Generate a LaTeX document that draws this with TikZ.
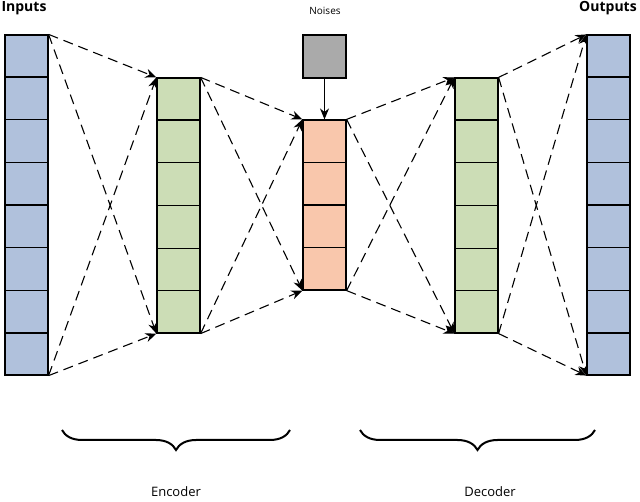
\documentclass[tikz,border=0pt]{standalone}
\usepackage{fontspec}
\setmainfont{Open Sans}
\usetikzlibrary{arrows.meta,positioning,calc,decorations.pathreplacing}
\definecolor{inblue}{HTML}{B0C1DC}
\definecolor{encgreen}{HTML}{CCDDB6}
\definecolor{codeorange}{HTML}{F9C7AC}
\definecolor{noisegray}{HTML}{AAAAAA}
\tikzset{
  col/.style={draw, line width=1.2pt, minimum width=43pt, inner sep=0pt},
  link/.style={dash pattern=on 10pt off 6pt, line width=1.1pt, -{Stealth[length=11pt,width=9pt]}},
  brc/.style={decorate, decoration={brace, mirror, amplitude=20pt, aspect=0.5}, line width=2pt}
}
\begin{document}
\begin{tikzpicture}[x=1pt,y=-1pt]
\useasboundingbox (0,0) rectangle (640,502);
% columns
\node[col, fill=inblue, minimum height=340pt] (in) at (26.5,205) {};
\node[col, fill=encgreen, minimum height=255pt] (enc) at (178.5,205.5) {};
\node[col, fill=codeorange, minimum height=170pt] (code) at (324.5,205) {};
\node[col, fill=encgreen, minimum height=255pt] (dec) at (476.5,205.5) {};
\node[col, fill=inblue, minimum height=340pt] (out) at (608.5,205) {};
\node[col, fill=noisegray, minimum height=43pt] (noise) at (324.5,56.5) {};
% cell lines
\foreach \i in {1,...,7}
  \draw[line width=1.2pt] ($(in.north west)!\i/8!(in.south west)$) -- ($(in.north east)!\i/8!(in.south east)$)
               ($(out.north west)!\i/8!(out.south west)$) -- ($(out.north east)!\i/8!(out.south east)$);
\foreach \i in {1,...,5}
  \draw[line width=1.2pt] ($(enc.north west)!\i/6!(enc.south west)$) -- ($(enc.north east)!\i/6!(enc.south east)$)
               ($(dec.north west)!\i/6!(dec.south west)$) -- ($(dec.north east)!\i/6!(dec.south east)$);
\foreach \i in {1,...,3}
  \draw[line width=1.2pt] ($(code.north west)!\i/4!(code.south west)$) -- ($(code.north east)!\i/4!(code.south east)$);
% links
\foreach \a/\b in {in/enc, enc/code, code/dec, dec/out} {
  \draw[link] (\a.north east) -- (\b.north west);
  \draw[link] (\a.north east) -- (\b.south west);
  \draw[link] (\a.south east) -- (\b.north west);
  \draw[link] (\a.south east) -- (\b.south west);
}
\draw[line width=1.1pt, -{Stealth[length=11pt,width=9pt]}] (noise) -- (code);
% labels
\node[font=\bfseries\fontsize{14}{16}\selectfont] (inlbl) at (24,8) {Inputs};
\node[font=\bfseries\fontsize{14}{16}\selectfont] (outlbl) at (608,8) {Outputs};
\node[font=\fontsize{10}{12}\selectfont] (noiselbl) at (325,11) {Noises};
% braces
\coordinate (e1) at (62,430); \coordinate (e2) at (290,430);
\coordinate (d1) at (360,430); \coordinate (d2) at (595,430);
\draw[brc] (e1) -- (e2);
\draw[brc] (d1) -- (d2);
\node[font=\fontsize{13}{15}\selectfont] (enclbl) at (176,492) {Encoder};
\node[font=\fontsize{13}{15}\selectfont] (declbl) at (490,492) {Decoder};
\end{tikzpicture}
\end{document}
